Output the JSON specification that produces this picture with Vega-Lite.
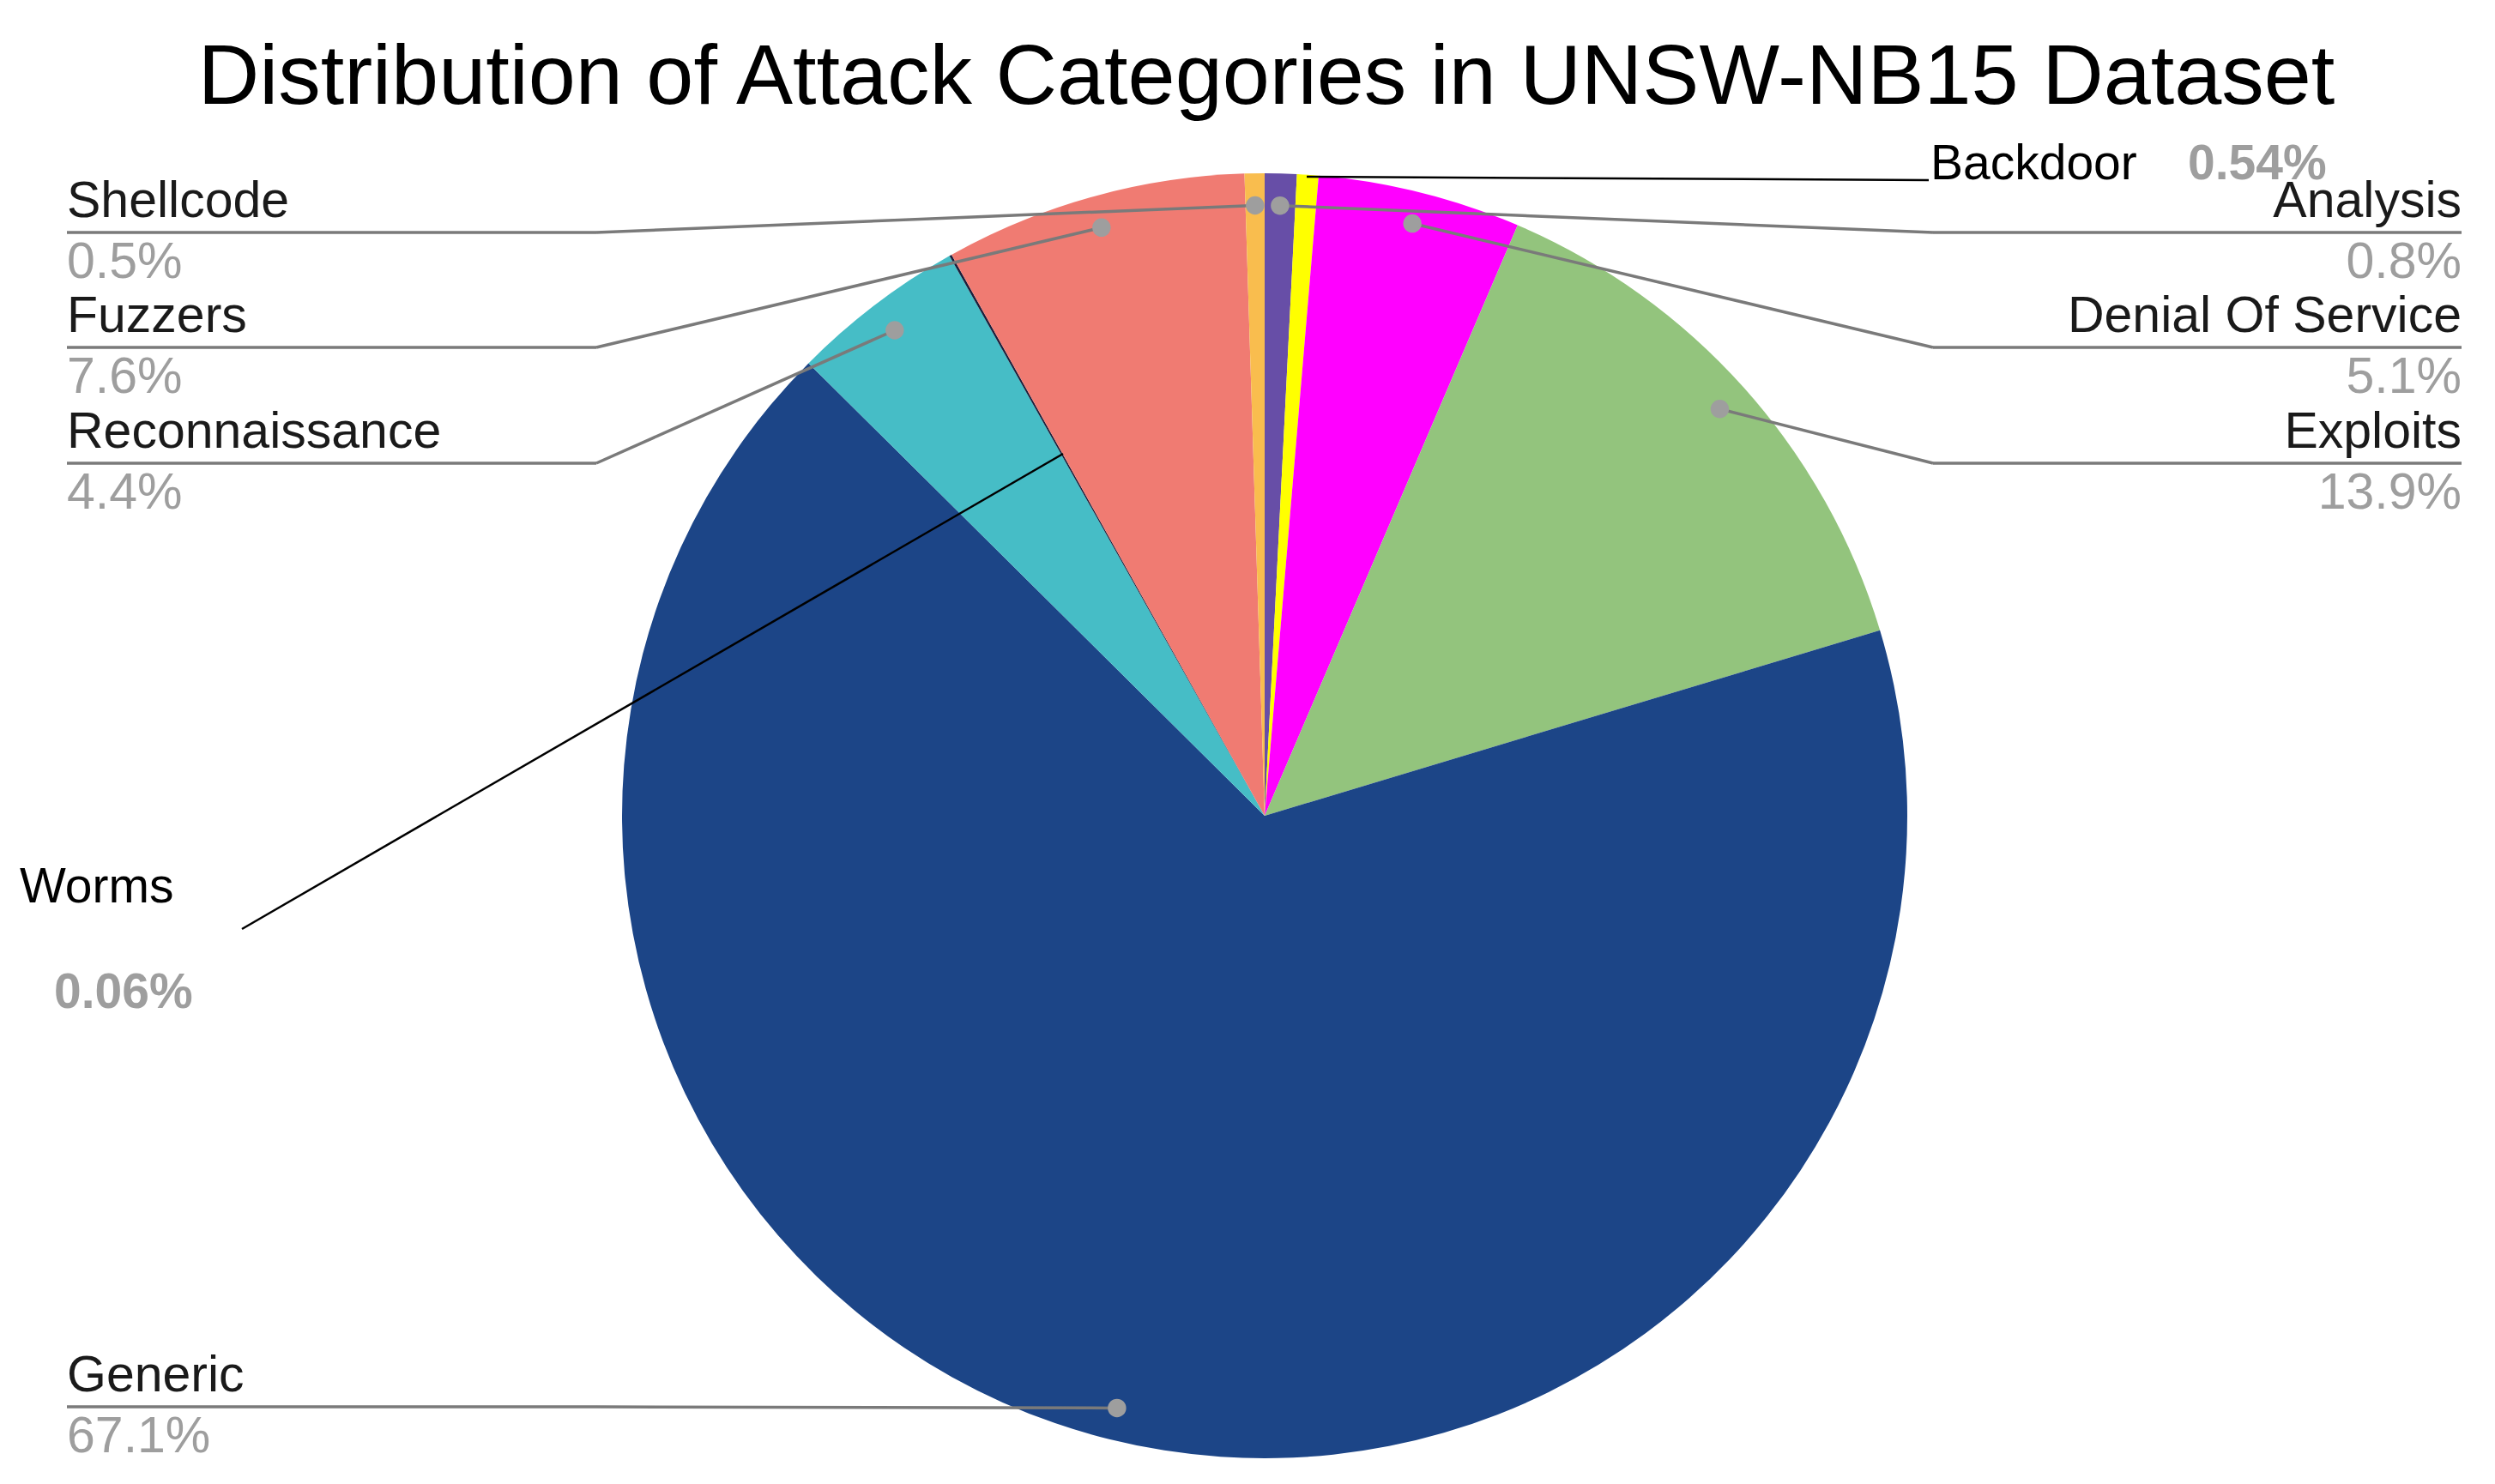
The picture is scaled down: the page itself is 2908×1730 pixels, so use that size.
{
  "$schema": "https://vega.github.io/schema/vega-lite/v6.json",
  "width": 2908,
  "height": 1570,
  "autosize": {"type": "none"},
  "padding": {"top": 160, "left": 0, "right": 0, "bottom": 0},
  "background": "white",
  "title": {
    "text": "Distribution of Attack Categories in UNSW-NB15 Dataset",
    "font": "Liberation Sans",
    "fontSize": 99,
    "fontWeight": "normal",
    "color": "#000000",
    "anchor": "middle",
    "dx": 22,
    "offset": 18
  },
  "config": {"view": {"stroke": null}},
  "datasets": {
    "slices": [
      {"category": "Analysis", "share": 0.8, "ord": 1},
      {"category": "Backdoor", "share": 0.54, "ord": 2},
      {"category": "Denial Of Service", "share": 5.1, "ord": 3},
      {"category": "Exploits", "share": 13.9, "ord": 4},
      {"category": "Generic", "share": 67.1, "ord": 5},
      {"category": "Reconnaissance", "share": 4.4, "ord": 6},
      {"category": "Worms", "share": 0.06, "ord": 7},
      {"category": "Fuzzers", "share": 7.6, "ord": 8},
      {"category": "Shellcode", "share": 0.5, "ord": 9}
    ],
    "labels": [
      {"category": "Shellcode", "pct": "0.5%", "side": "left", "labelU": -1.86382, "elbowU": -1.04005, "lineV": 0.90788, "dotU": -0.01492, "dotV": 0.94988},
      {"category": "Fuzzers", "pct": "7.6%", "side": "left", "labelU": -1.86382, "elbowU": -1.04005, "lineV": 0.72897, "dotU": -0.25388, "dotV": 0.91545},
      {"category": "Reconnaissance", "pct": "4.4%", "side": "left", "labelU": -1.86382, "elbowU": -1.04005, "lineV": 0.54873, "dotU": -0.57569, "dotV": 0.7557},
      {"category": "Generic", "pct": "67.1%", "side": "left", "labelU": -1.86382, "elbowU": -1.04005, "lineV": -0.91989, "dotU": -0.22982, "dotV": -0.92179},
      {"category": "Analysis", "pct": "0.8%", "side": "right", "labelU": 1.86248, "elbowU": 1.04005, "lineV": 0.90788, "dotU": 0.02388, "dotV": 0.9497},
      {"category": "Denial Of Service", "pct": "5.1%", "side": "right", "labelU": 1.86248, "elbowU": 1.04005, "lineV": 0.72897, "dotU": 0.22982, "dotV": 0.92179},
      {"category": "Exploits", "pct": "13.9%", "side": "right", "labelU": 1.86248, "elbowU": 1.04005, "lineV": 0.54873, "dotU": 0.70821, "dotV": 0.6332}
    ],
    "callouts": [
      {"category": "Worms", "pct": "0.06%", "textU": -1.93725, "textV": -0.13485, "pctU": -1.88385, "pctV": -0.29907, "lineU1": -1.59145, "lineV1": -0.17623, "lineU2": -0.31375, "lineV2": 0.56342},
      {"category": "Backdoor", "pct": "0.54%", "textU": 1.03605, "textV": 0.99066, "pctU": 1.43658, "pctV": 0.99066, "lineU1": 0.06542, "lineV1": 0.99466, "lineU2": 1.03338, "lineV2": 0.98932}
    ]
  },
  "layer": [
    {
      "data": {"name": "slices"},
      "mark": {"type": "arc", "outerRadius": 749},
      "encoding": {
        "x": {"datum": 0, "type": "quantitative", "axis": null, "scale": {"domain": [-1.96796, 1.91455], "nice": false, "zero": false}},
        "y": {"datum": 0, "type": "quantitative", "axis": null, "scale": {"domain": [-1.04005, 1.05607], "nice": false, "zero": false}},
        "theta": {"field": "share", "type": "quantitative", "stack": true},
        "order": {"field": "ord", "type": "quantitative"},
        "color": {
          "field": "category",
          "type": "nominal",
          "legend": null,
          "scale": {
            "domain": ["Analysis", "Backdoor", "Denial Of Service", "Exploits", "Generic", "Reconnaissance", "Worms", "Fuzzers", "Shellcode"],
            "range": ["#674ea7", "#ffff00", "#ff00ff", "#93c47d", "#1c4587", "#46bdc6", "#1b1f3b", "#f07b72", "#f9bd4e"]
          }
        }
      }
    },
    {
      "data": {"name": "labels"},
      "mark": {"type": "rule", "color": "#7a7a7a", "strokeWidth": 3.5},
      "encoding": {
        "x": {"field": "labelU", "type": "quantitative", "axis": null},
        "x2": {"field": "elbowU"},
        "y": {"field": "lineV", "type": "quantitative", "axis": null}
      }
    },
    {
      "data": {"name": "labels"},
      "mark": {"type": "rule", "color": "#7a7a7a", "strokeWidth": 3.5},
      "encoding": {
        "x": {"field": "elbowU", "type": "quantitative", "axis": null},
        "x2": {"field": "dotU"},
        "y": {"field": "lineV", "type": "quantitative", "axis": null},
        "y2": {"field": "dotV"}
      }
    },
    {
      "data": {"name": "labels"},
      "mark": {"type": "point", "filled": true, "size": 460, "color": "#9e9e9e", "opacity": 1},
      "encoding": {
        "x": {"field": "dotU", "type": "quantitative", "axis": null},
        "y": {"field": "dotV", "type": "quantitative", "axis": null}
      }
    },
    {
      "data": {"name": "labels"},
      "transform": [{"filter": "datum.side == 'left'"}],
      "mark": {"type": "text", "align": "left", "baseline": "alphabetic", "dy": -18, "font": "Liberation Sans", "fontSize": 59, "color": "#1a1a1a"},
      "encoding": {
        "x": {"field": "labelU", "type": "quantitative", "axis": null},
        "y": {"field": "lineV", "type": "quantitative", "axis": null},
        "text": {"field": "category"}
      }
    },
    {
      "data": {"name": "labels"},
      "transform": [{"filter": "datum.side == 'left'"}],
      "mark": {"type": "text", "align": "left", "baseline": "alphabetic", "dy": 53, "font": "Liberation Sans", "fontSize": 59, "color": "#9e9e9e"},
      "encoding": {
        "x": {"field": "labelU", "type": "quantitative", "axis": null},
        "y": {"field": "lineV", "type": "quantitative", "axis": null},
        "text": {"field": "pct"}
      }
    },
    {
      "data": {"name": "labels"},
      "transform": [{"filter": "datum.side == 'right'"}],
      "mark": {"type": "text", "align": "right", "baseline": "alphabetic", "dy": -18, "font": "Liberation Sans", "fontSize": 59, "color": "#1a1a1a"},
      "encoding": {
        "x": {"field": "labelU", "type": "quantitative", "axis": null},
        "y": {"field": "lineV", "type": "quantitative", "axis": null},
        "text": {"field": "category"}
      }
    },
    {
      "data": {"name": "labels"},
      "transform": [{"filter": "datum.side == 'right'"}],
      "mark": {"type": "text", "align": "right", "baseline": "alphabetic", "dy": 53, "font": "Liberation Sans", "fontSize": 59, "color": "#9e9e9e"},
      "encoding": {
        "x": {"field": "labelU", "type": "quantitative", "axis": null},
        "y": {"field": "lineV", "type": "quantitative", "axis": null},
        "text": {"field": "pct"}
      }
    },
    {
      "data": {"name": "callouts"},
      "mark": {"type": "rule", "color": "#000000", "strokeWidth": 2.5},
      "encoding": {
        "x": {"field": "lineU1", "type": "quantitative", "axis": null},
        "x2": {"field": "lineU2"},
        "y": {"field": "lineV1", "type": "quantitative", "axis": null},
        "y2": {"field": "lineV2"}
      }
    },
    {
      "data": {"name": "callouts"},
      "mark": {"type": "text", "align": "left", "baseline": "alphabetic", "font": "Liberation Sans", "fontSize": 57, "color": "#000000"},
      "encoding": {
        "x": {"field": "textU", "type": "quantitative", "axis": null},
        "y": {"field": "textV", "type": "quantitative", "axis": null},
        "text": {"field": "category"}
      }
    },
    {
      "data": {"name": "callouts"},
      "mark": {"type": "text", "align": "left", "baseline": "alphabetic", "font": "Liberation Sans", "fontSize": 57, "fontWeight": "bold", "color": "#9e9e9e"},
      "encoding": {
        "x": {"field": "pctU", "type": "quantitative", "axis": null},
        "y": {"field": "pctV", "type": "quantitative", "axis": null},
        "text": {"field": "pct"}
      }
    }
  ]
}
